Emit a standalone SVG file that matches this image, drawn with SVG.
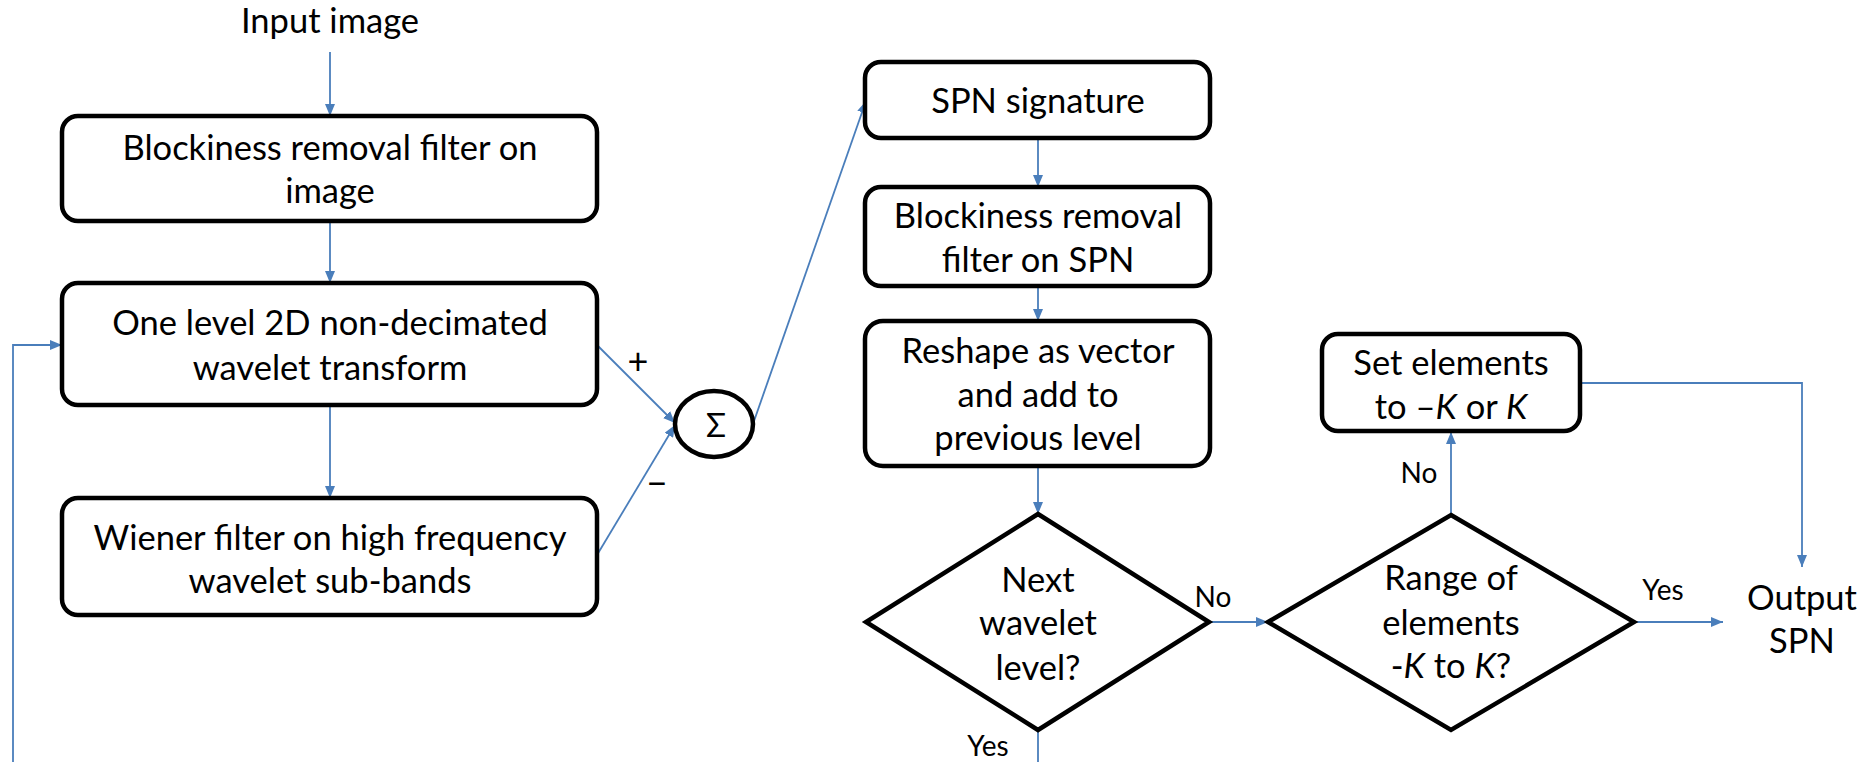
<svg xmlns="http://www.w3.org/2000/svg" width="1869" height="762" viewBox="0 0 1869 762">
<style>
  .node { fill: #ffffff; stroke: #000000; stroke-width: 4.5; }
  .t { font-family: Lato, "Liberation Sans", sans-serif; font-size: 34.5px; fill: #000; text-anchor: middle; }
  .lbl { font-family: Lato, "Liberation Sans", sans-serif; font-size: 28px; fill: #000; text-anchor: middle; }
  .sign { font-family: Lato, "Liberation Sans", sans-serif; font-size: 36px; fill: #000; text-anchor: middle; }
  .c { fill: none; stroke: #4a7ebb; stroke-width: 1.8; }
  .ca { fill: none; stroke: #4a7ebb; stroke-width: 1.8; marker-end: url(#ah); }
</style>
<defs>
  <marker id="ah" markerWidth="12" markerHeight="10" refX="12" refY="5" orient="auto" markerUnits="userSpaceOnUse">
    <path d="M0,0 L12,5 L0,10 Z" fill="#4a7ebb"/>
  </marker>
</defs>
<rect width="1869" height="762" fill="#ffffff"/>

<g id="connectors">
  <line class="ca" x1="330" y1="52" x2="330" y2="116"/>
  <line class="ca" x1="330" y1="221" x2="330" y2="283"/>
  <line class="ca" x1="330" y1="405" x2="330" y2="498"/>
  <polyline class="ca" points="13,762 13,345 62,345"/>
  <line class="ca" x1="597" y1="345" x2="675" y2="423"/>
  <line class="ca" x1="597" y1="555" x2="675" y2="425"/>
  <line class="ca" x1="753" y1="424" x2="866" y2="101"/>
  <line class="ca" x1="1038" y1="138" x2="1038" y2="187"/>
  <line class="ca" x1="1038" y1="286" x2="1038" y2="321"/>
  <line class="ca" x1="1038" y1="466" x2="1038" y2="514"/>
  <line class="c" x1="1038" y1="730" x2="1038" y2="762"/>
  <line class="ca" x1="1209" y1="622" x2="1268" y2="622"/>
  <line class="ca" x1="1451" y1="515" x2="1451" y2="432"/>
  <polyline class="ca" points="1580,383 1802,383 1802,567"/>
  <line class="ca" x1="1634" y1="622" x2="1723" y2="622"/>
  <text class="sign" x="638" y="374">+</text>
  <text class="sign" x="657" y="496">−</text>
  <text class="lbl" x="1213" y="607">No</text>
  <text class="lbl" x="988" y="756">Yes</text>
  <text class="lbl" x="1419" y="483">No</text>
  <text class="lbl" x="1663" y="600">Yes</text>
</g>

<g id="input">
  <text class="t" x="330" y="33">Input image</text>
</g>

<g id="blockiness-image">
  <rect class="node" x="62" y="116" width="535" height="105" rx="16"/>
  <text class="t" x="330" y="160">Blockiness removal filter on</text>
  <text class="t" x="330" y="203">image</text>
</g>

<g id="wavelet-transform">
  <rect class="node" x="62" y="283" width="535" height="122" rx="16"/>
  <text class="t" x="330" y="335">One level 2D non-decimated</text>
  <text class="t" x="330" y="380">wavelet transform</text>
</g>

<g id="wiener">
  <rect class="node" x="62" y="498" width="535" height="117" rx="16"/>
  <text class="t" x="330" y="550">Wiener filter on high frequency</text>
  <text class="t" x="330" y="593">wavelet sub-bands</text>
</g>

<g id="sum">
  <ellipse class="node" cx="714" cy="424" rx="39" ry="33"/>
  <text class="t" x="716" y="437" style="font-size:33px">Σ</text>
</g>

<g id="spn-signature">
  <rect class="node" x="865" y="62" width="345" height="76" rx="16"/>
  <text class="t" x="1038" y="113">SPN signature</text>
</g>

<g id="blockiness-spn">
  <rect class="node" x="865" y="187" width="345" height="99" rx="16"/>
  <text class="t" x="1038" y="228">Blockiness removal</text>
  <text class="t" x="1038" y="272">filter on SPN</text>
</g>

<g id="reshape">
  <rect class="node" x="865" y="321" width="345" height="145" rx="18"/>
  <text class="t" x="1038" y="363">Reshape as vector</text>
  <text class="t" x="1038" y="407">and add to</text>
  <text class="t" x="1038" y="450">previous level</text>
</g>

<g id="next-level">
  <polygon class="node" points="1038,514 1209,622 1038,730 866,622"/>
  <text class="t" x="1038" y="592">Next</text>
  <text class="t" x="1038" y="635">wavelet</text>
  <text class="t" x="1038" y="680">level?</text>
</g>

<g id="range">
  <polygon class="node" points="1451,515 1634,622 1451,730 1268,622"/>
  <text class="t" x="1451" y="590">Range of</text>
  <text class="t" x="1451" y="635">elements</text>
  <text class="t" x="1451" y="678">-<tspan font-style="italic">K</tspan> to <tspan font-style="italic">K</tspan>?</text>
</g>

<g id="set-elements">
  <rect class="node" x="1322" y="334" width="258" height="97" rx="16"/>
  <text class="t" x="1451" y="375">Set elements</text>
  <text class="t" x="1451" y="419">to –<tspan font-style="italic">K</tspan> or <tspan font-style="italic">K</tspan></text>
</g>

<g id="output">
  <text class="t" x="1802" y="610">Output</text>
  <text class="t" x="1802" y="653">SPN</text>
</g>
</svg>
